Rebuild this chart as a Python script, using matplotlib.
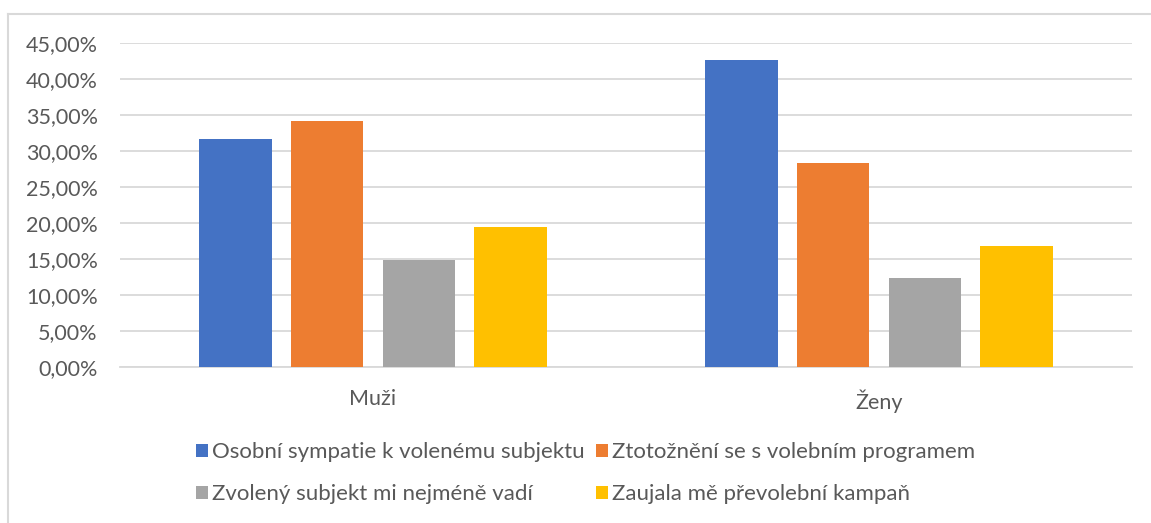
import matplotlib.pyplot as plt
from matplotlib.lines import Line2D
from matplotlib.ticker import FuncFormatter
import numpy as np

plt.rcParams['font.family'] = ['Lato', 'DejaVu Sans']

# Data
groups = ["Muži", "Ženy"]
series = [
    "Osobní sympatie k volenému subjektu",
    "Ztotožnění se s volebním programem",
    "Zvolený subjekt mi nejméně vadí",
    "Zaujala mě převolební kampaň",
]
values = [
    [0.316, 0.426],
    [0.342, 0.283],
    [0.148, 0.123],
    [0.194, 0.168],
]
colors = ["#4472C4", "#ED7D31", "#A5A5A5", "#FFC000"]
text_color = "#595959"
fs = 15.5

fig = plt.figure(figsize=(11.51, 5.23), dpi=100)
ax = fig.add_axes([120 / 1151, 1 - 367 / 523, 1012 / 1151, 324 / 523])

x = np.arange(len(groups))
step = 0.181
width = 0.143
bars = []
for i, (name, vals, c) in enumerate(zip(series, values, colors)):
    b = ax.bar(x + (i - 1.5) * step, vals, width, color=c, label=name, zorder=3)
    bars.append(b)

ax.set_xlim(-0.5, 1.5)
ax.set_ylim(0, 0.45)
ax.set_yticks(np.arange(0, 0.451, 0.05))
ax.yaxis.set_major_formatter(FuncFormatter(lambda v, p: f"{v * 100:.2f}%".replace(".", ",")))
ax.set_xticks(x)
ax.set_xticklabels(groups)
ax.tick_params(axis="both", length=0, colors=text_color, labelsize=fs)
ax.tick_params(axis="x", pad=16)
ax.tick_params(axis="y", pad=16)
ax.grid(axis="y", color="#D9D9D9", linewidth=1.3, zorder=0)
for s in ["top", "right", "left"]:
    ax.spines[s].set_visible(False)
ax.spines["bottom"].set_color("#D9D9D9")
ax.spines["bottom"].set_linewidth(1.3)

# legend: row-wise order like Excel
order = [0, 2, 1, 3]
leg = fig.legend([bars[i] for i in order], [series[i] for i in order],
                 ncol=2, loc="upper left", bbox_to_anchor=(196 / 1151, 1 - 442 / 523),
                 frameon=False, fontsize=16, handlelength=0.53, handleheight=0.53,
                 handletextpad=0.2, columnspacing=0.5, labelspacing=1.0,
                 borderpad=0, borderaxespad=0)
for t in leg.get_texts():
    t.set_color(text_color)

# chart frame (top and left edges)
fig.add_artist(Line2D([8 / 1151, 8 / 1151], [0, 1 - 14 / 523], transform=fig.transFigure,
                      color="#D9D9D9", linewidth=1.5))
fig.add_artist(Line2D([8 / 1151, 1], [1 - 14 / 523, 1 - 14 / 523], transform=fig.transFigure,
                      color="#D9D9D9", linewidth=1.5))

fig.savefig("out.png", dpi=100)
